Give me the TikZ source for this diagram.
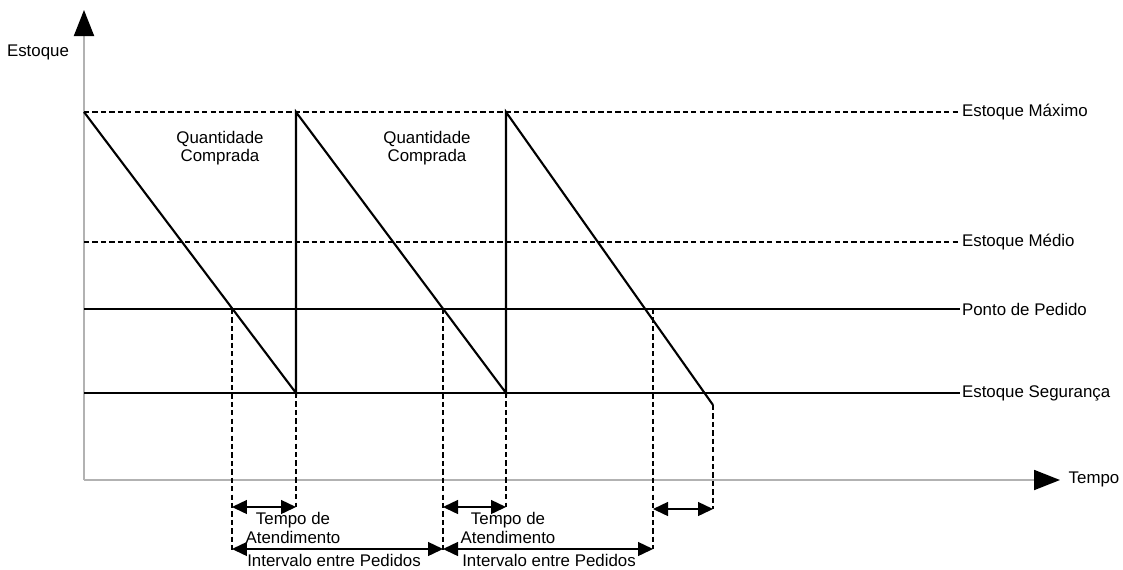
\documentclass[tikz,border=0pt]{standalone}
\usepackage{fontspec}
\setmainfont{Liberation Sans}
\usetikzlibrary{positioning,arrows.meta}

\begin{document}
\begin{tikzpicture}[x=0.02cm,y=-0.02cm,
			lbl/.style={font=\fontsize{9.6}{10.5}\selectfont, inner sep=1pt, align=center},
			nivel/.style={black, line width=0.8pt},
			tracejado/.style={line width=0.7pt, dash pattern=on 3pt off 1.8pt},
			eixo/.style={gray!60, line width=1.1pt, -{Triangle[length=0.52cm,width=0.4cm,color=black]}},
			serra/.style={line width=1.2pt, line join=miter},
			cota/.style={line width=0.8pt, {Triangle[length=0.3cm,width=0.28cm]}-{Triangle[length=0.3cm,width=0.28cm]}},
		]
		\useasboundingbox (0,0) rectangle (1123,569);

		% eixos
		\coordinate (o)    at (84,480);
		\coordinate (ytop) at (84,10);
		\coordinate (xtip) at (1060,480);
		\draw[eixo] (o) -- (ytop);
		\draw[eixo] (o) -- (xtip);
		\node[lbl] (estoque) at (38,52)   {Estoque};
		\node[lbl] (tempo)   at (1094,479) {Tempo};

		% niveis
		\node[lbl, anchor=west] (max) at (960,112) {Estoque Máximo};
		\node[lbl, anchor=west] (med) at (960,242) {Estoque Médio};
		\node[lbl, anchor=west] (pp)  at (960,309) {Ponto de Pedido};
		\node[lbl, anchor=west] (seg) at (960,393) {Estoque Segurança};

		\draw[tracejado] (84,112) -- (max);
		\draw[tracejado] (84,242) -- (med);
		\draw[nivel] (84,309) -- (pp);
		\draw[nivel] (84,393) -- (seg);

		% dente de serra
		\coordinate (a0) at (84,112);
		\coordinate (b1) at (296,393);
		\coordinate (a1) at (296,112);
		\coordinate (b2) at (506,393);
		\coordinate (a2) at (506,112);
		\coordinate (b3) at (713,405);
		\draw[serra] (a0) -- (b1) -- (a1) -- (b2) -- (a2) -- (b3);

		\node[lbl] (q1) at (220,148) {Quantidade\\Comprada};
		\node[lbl] (q2) at (427,148) {Quantidade\\Comprada};

		% pontos de pedido
		\coordinate (p1) at (232,309);
		\coordinate (p2) at (443,309);
		\coordinate (p3) at (653,309);

		% cotas
		\coordinate (t1a) at (232,507);
		\coordinate (t1b) at (296,507);
		\coordinate (i1a) at (232,549);
		\coordinate (i1b) at (443,549);
		\coordinate (t2a) at (443,507);
		\coordinate (t2b) at (506,507);
		\coordinate (i2a) at (443,549);
		\coordinate (i2b) at (653,549);
		\coordinate (t3a) at (653,509);
		\coordinate (t3b) at (713,509);

		\draw[tracejado] (p1) -- (232,553);
		\draw[tracejado] (b1) -- (t1b);
		\draw[tracejado] (p2) -- (443,553);
		\draw[tracejado] (b2) -- (t2b);
		\draw[tracejado] (p3) -- (i2b);
		\draw[tracejado] (b3) -- (t3b);

		\draw[cota] (t1a) -- (t1b);
		\draw[cota] (i1a) -- (i1b);
		\draw[cota] (t2a) -- (t2b);
		\draw[cota] (i2a) -- (i2b);
		\draw[cota] (t3a) -- (t3b);

		\node[lbl] (ta1) at (293,528) {Tempo de\\Atendimento};
		\node[lbl] (ta2) at (508,528) {Tempo de\\Atendimento};
		\node[lbl] (ip1) at (334,560) {Intervalo entre Pedidos};
		\node[lbl] (ip2) at (549,560) {Intervalo entre Pedidos};

		\end{tikzpicture}
\end{document}
